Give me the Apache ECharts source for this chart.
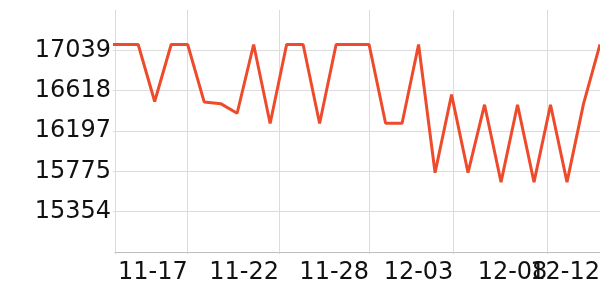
<!DOCTYPE html>
<html><head><meta charset="utf-8">
<script src="https://cdn.jsdelivr.net/npm/echarts@6/dist/echarts.min.js"></script>
<style>html,body{margin:0;padding:0;background:#fff}#c{width:600px;height:300px}</style>
</head><body><div id="c"></div>
<script>
const dates = ['11-12','11-13','11-14','11-15','11-16','11-17','11-18','11-19','11-20','11-21',
  '11-22','11-23','11-24','11-25','11-26','11-27','11-28','11-29','11-30','12-01',
  '12-02','12-03','12-04','12-05','12-06','12-07','12-08','12-09','12-10','12-11','12-12'];
const values = [17100,17100,17100,16505,17100,17100,16500,16482,16382,17100,
  16275,17100,17100,16275,17100,17100,17100,16278,16278,17100,
  15761,16576,15761,16471,15662,16471,15662,16471,15662,16480,17100];
const yTickValues = [15354, 15775.25, 16196.5, 16617.75, 17039];
const xTickDays = [5, 10.54, 16, 21.11, 26.81, 30];
const xTickLabels = ['11-17','11-22','11-28','12-03','12-08','12-12'];
const xMin = 0.594, xMax = 30, yMin = 14932.75, yMax = 17460.25;

const chart = echarts.init(document.getElementById('c'), null, {renderer:'canvas'});
const seriesData = values.map((v, i) => [i, v]);
const labelFmt = v => { const i = xTickDays.findIndex(d => Math.abs(d - v) < 1e-6); return i >= 0 ? xTickLabels[i] : ''; };
const labelStyle = {fontFamily: 'DejaVu Sans', fontSize: 24, color: '#111'};
const lastDay = xTickDays[xTickDays.length - 1];
chart.setOption({
  animation: false,
  backgroundColor: '#fff',
  grid: {left: 115, right: 0, top: 10, bottom: 48, containLabel: false, outerBoundsMode: 'none'},
  xAxis: [{
    type: 'value', min: xMin, max: xMax,
    axisLine: {show: true, lineStyle: {color: '#bdbdbd', width: 1}},
    axisTick: {show: true, length: 2, lineStyle: {color: '#cfcfcf'}, customValues: [xMin].concat(xTickDays)},
    splitLine: {show: true, lineStyle: {color: '#dcdcdc', width: 1}},
    axisLabel: Object.assign({
      customValues: xTickDays.slice(0, -1), align: 'right', margin: 9, hideOverlap: false,
      showMinLabel: true, showMaxLabel: true, formatter: labelFmt
    }, labelStyle)
  }, {
    type: 'value', min: xMin, max: xMax, position: 'bottom', offset: 0,
    axisLine: {show: false}, axisTick: {show: false}, splitLine: {show: false},
    axisLabel: Object.assign({
      customValues: [lastDay], align: 'right', margin: 9, hideOverlap: false,
      showMinLabel: true, showMaxLabel: true, formatter: labelFmt
    }, labelStyle)
  }],
  yAxis: {
    type: 'value', min: yMin, max: yMax,
    axisLine: {show: false},
    axisTick: {show: true, length: 2, lineStyle: {color: '#dcdcdc'}, customValues: yTickValues},
    splitLine: {show: true, lineStyle: {color: '#dcdcdc', width: 1}},
    axisLabel: Object.assign({
      customValues: yTickValues, margin: 4, hideOverlap: false,
      formatter: v => String(Math.round(v))
    }, labelStyle)
  },
  series: [{
    type: 'line', xAxisIndex: 0, data: seriesData, showSymbol: false, symbol: 'none', clip: true,
    lineStyle: {color: '#ee4b2c', width: 3}, smooth: false
  }]
});
</script></body></html>
